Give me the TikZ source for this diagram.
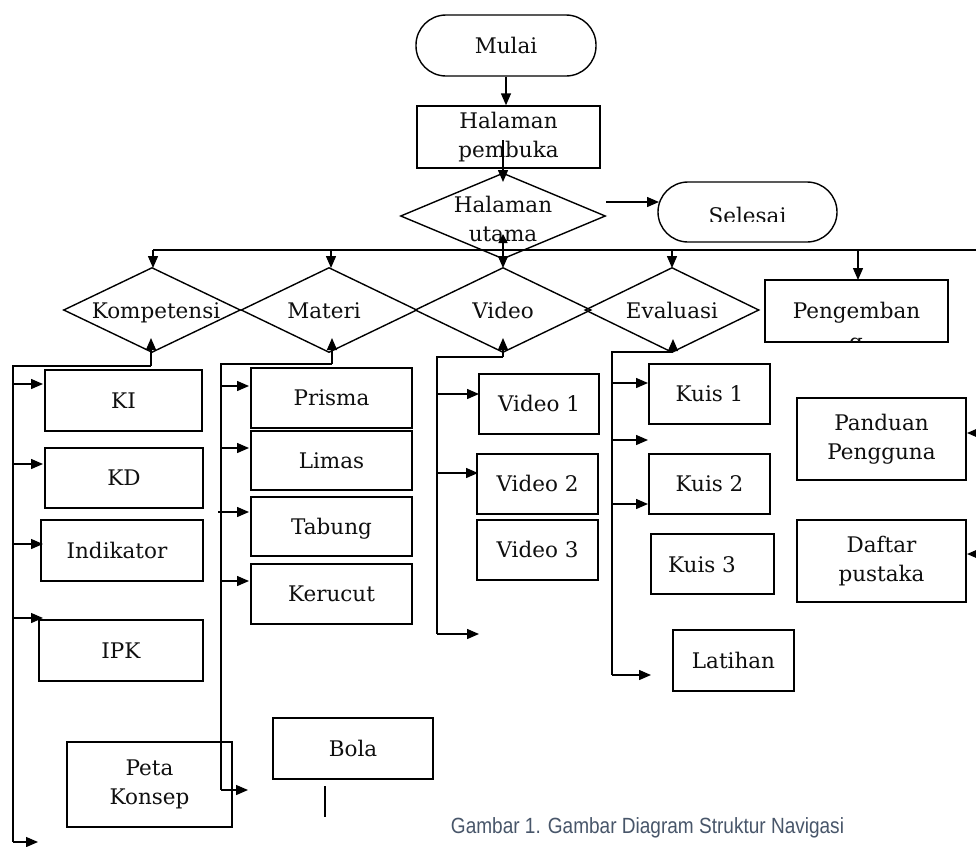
\documentclass[tikz,border=0pt]{standalone}
\usepackage{fontspec}
\setmainfont{DejaVu Serif}
\newfontfamily\capfont{Liberation Sans}
\usetikzlibrary{arrows.meta,shapes.geometric}
\newcommand{\dtf}{\fontsize{21.5}{29}\selectfont}
\definecolor{capcol}{RGB}{72,86,106}
\definecolor{txtcol}{RGB}{15,15,15}
\begin{document}
\begin{tikzpicture}[x=1pt,y=-1pt,line width=1.4pt,
  arr/.style={-{Triangle[length=12pt,width=10pt]}},
  box/.style={draw, rectangle, inner sep=0pt, align=center, font=\dtf, text=txtcol},
  term/.style={box, rounded corners=30pt},
  dia/.style={draw, diamond, inner sep=0pt},
  lbl/.style={inner sep=0pt, align=center, font=\dtf, text=txtcol},
  one/.style={text height=15pt, text depth=0pt}]
\useasboundingbox (0,0) rectangle (976,846);
\fill[white] (0,0) rectangle (976,846);

% ---- top flow
\node[term, minimum width=180pt, minimum height=61pt, one] (mulai) at (506,45.5) {Mulai};
\node[box, minimum width=183pt, minimum height=62pt] (hp) at (508.5,137) {Halaman\\pembuka};
\node[dia, minimum width=205pt, minimum height=86pt] (hu) at (503,216) {};
\node[lbl] (hut) at (503,219) {Halaman\\utama};
\node[term, minimum width=179pt, minimum height=60pt] (sel) at (747.5,212) {};
\begin{scope}
  \clip (650,170) rectangle (850,221);
  \node[lbl, one] (selt) at (747.5,215.5) {Selesai};
\end{scope}

\coordinate (hpa) at (503,140);
\coordinate (hua) at (503,182);
\draw[arr] (mulai.south) -- (mulai.south |- hp.north);
\draw[arr] (hpa) -- (hua);
\coordinate (hur) at (606,202);
\coordinate (sell) at (659,202);
\draw[arr] (hur) -- (sell);

% ---- bus
\coordinate (busL) at (153,250);
\coordinate (busR) at (976,250);
\draw (busL) -- (busR);

% ---- second level
\node[dia, minimum width=177pt, minimum height=85pt] (komp) at (152,310) {};
\node[dia, minimum width=176pt, minimum height=85pt] (mat) at (329,310) {};
\node[dia, minimum width=176pt, minimum height=85pt] (vid) at (503,310) {};
\node[dia, minimum width=174pt, minimum height=85pt] (eval) at (672,310) {};
\node[lbl, one] (kompt) at (156,310.5) {Kompetensi};
\node[lbl, one] (matt) at (324,310.5) {Materi};
\node[lbl, one] (vidt) at (503,310.5) {Video};
\node[lbl, one] (evalt) at (672,310.5) {Evaluasi};
\node[box, minimum width=183pt, minimum height=62pt, one] (peng) at (856.5,311) {Pengemban};
\begin{scope}
  \clip (766,281) rectangle (947,341.3);
  \node[lbl, one] (pengg) at (856,341.5) {g};
\end{scope}

\draw[arr] (busL) -- (153,268);
\draw[arr] (331,250) -- (331,268);
\draw[arr] (672,250) -- (672,268);
\draw[arr] (858,250) -- (858,280);
\coordinate (vu) at (503,234);
\coordinate (vd) at (503,268);
\draw[{Triangle[length=9pt,width=9pt]}-{Triangle[length=12pt,width=10pt]}] (vu) -- (vd);

% ---- Kompetensi column
\node[box, minimum width=157pt, minimum height=61pt, one] (ki) at (123.5,400.5) {KI};
\node[box, minimum width=158pt, minimum height=60pt, one] (kd) at (124,478) {KD};
\node[box, minimum width=162pt, minimum height=61pt] (ind) at (122,550.5) {};
\node[lbl, one] (indt) at (117,550.5) {Indikator};
\node[box, minimum width=164pt, minimum height=61pt, one] (ipk) at (121,650.5) {IPK};
\node[box, minimum width=165pt, minimum height=85pt] (peta) at (149.5,784.5) {Peta\\Konsep};

\coordinate (kb) at (151,366);
\coordinate (kt) at (151,338);
\coordinate (kbot) at (13,842);
\draw[arr] (kb) -- (kt);
\draw (kb) -| (kbot);
\draw[arr] (13,384) -- (43,384);
\draw[arr] (13,464) -- (43,464);
\draw[arr] (13,544) -- (43,544);
\draw[arr] (13,618) -- (43,618);
\draw[arr] (kbot) -- (38,842);

% ---- Materi column
\node[box, minimum width=161pt, minimum height=60pt, one] (pri) at (331.5,398) {Prisma};
\node[box, minimum width=161pt, minimum height=59pt, one] (lim) at (331.5,460.5) {Limas};
\node[box, minimum width=161pt, minimum height=59pt, one] (tab) at (331.5,526.5) {Tabung};
\node[box, minimum width=161pt, minimum height=60pt, one] (ker) at (331.5,594) {Kerucut};
\node[box, minimum width=160pt, minimum height=61pt, one] (bola) at (353,748.5) {Bola};

\coordinate (mb) at (332,364);
\coordinate (mt) at (332,338);
\coordinate (mbot) at (221,790);
\draw[arr] (mb) -- (mt);
\draw (mb) -| (mbot);
\draw[arr] (221,386) -- (249,386);
\draw[arr] (221,448) -- (249,448);
\draw[arr] (218,512) -- (249,512);
\draw[arr] (221,581) -- (249,581);
\draw[arr] (mbot) -- (248,790);
\coordinate (bl1) at (325,786);
\coordinate (bl2) at (325,817);
\draw (bl1) -- (bl2);

% ---- Video column
\node[box, minimum width=120pt, minimum height=60pt, one] (v1) at (539,404) {Video 1};
\node[box, minimum width=121pt, minimum height=60pt, one] (v2) at (537.5,484) {Video 2};
\node[box, minimum width=121pt, minimum height=60pt, one] (v3) at (537.5,550) {Video 3};

\coordinate (vb) at (503,357);
\coordinate (vt) at (503,338);
\coordinate (vbot) at (437,634);
\draw[arr] (vb) -- (vt);
\draw (vb) -| (vbot);
\draw[arr] (437,394) -- (479,394);
\draw[arr] (437,473) -- (478,473);
\draw[arr] (vbot) -- (479,634);

% ---- Evaluasi column
\node[box, minimum width=121pt, minimum height=60pt, one] (k1) at (709.5,394) {Kuis 1};
\node[box, minimum width=121pt, minimum height=60pt, one] (k2) at (709.5,484) {Kuis 2};
\node[box, minimum width=123pt, minimum height=60pt] (k3) at (712.5,564) {};
\node[lbl, one] (k3t) at (702,565) {Kuis 3};
\node[box, minimum width=121pt, minimum height=61pt, one] (lat) at (733.5,660.5) {Latihan};

\coordinate (eb) at (673,352);
\coordinate (et) at (673,339);
\coordinate (ebot) at (612,675);
\draw[arr] (eb) -- (et);
\draw (eb) -| (ebot);
\draw[arr] (612,383) -- (648,383);
\draw[arr] (612,440) -- (648,440);
\draw[arr] (612,504) -- (648,504);
\draw[arr] (ebot) -- (651,675);

% ---- right column
\node[box, minimum width=169pt, minimum height=82pt] (pand) at (881.5,439) {Panduan\\Pengguna};
\node[box, minimum width=169pt, minimum height=82pt] (daf) at (881.5,561) {Daftar\\pustaka};
\coordinate (pr) at (995,433);
\coordinate (dr) at (995,554);
\draw[arr] (pr) -- (967,433);
\draw[arr] (dr) -- (967,554);

% ---- caption
\node[inner sep=0pt, font=\capfont\fontsize{22}{24}\selectfont, text=capcol, xscale=0.865] (cap) at (647.5,828) {Gambar 1. Gambar Diagram Struktur Navigasi};
\end{tikzpicture}
\end{document}
